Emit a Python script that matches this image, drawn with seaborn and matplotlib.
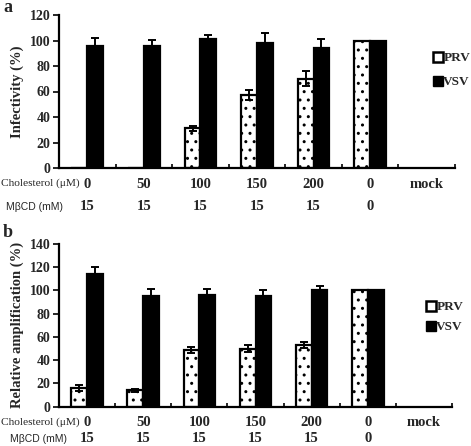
import matplotlib
matplotlib.use("Agg")
import matplotlib.pyplot as plt
import matplotlib.transforms as mtransforms
import numpy as np
import pandas as pd
import seaborn as sns
from matplotlib.lines import Line2D

# ---- data ----
categories = ["0", "50", "100", "150", "200", "0 ", "mock"]
cholesterol_labels = ["0", "50", "100", "150", "200", "0", "mock"]
mbcd_labels = ["15", "15", "15", "15", "15", "0"]

a_prv = [0, 0, 31, 57, 70, 100]
a_prv_err = [0, 0, 2, 4, 6, 0]
a_vsv = [96, 96, 101, 98, 94, 100]
a_vsv_err = [6, 4.5, 3.5, 8, 7, 0]

b_prv = [16, 14, 48.5, 50, 53, 100]
b_prv_err = [2.5, 1.5, 2.5, 3, 2.5, 0]
b_vsv = [114, 95, 96, 95, 100.5, 100]
b_vsv_err = [6, 6, 5, 5, 3.5, 0]

W, H = 471, 446
SERIF = ["Liberation Serif", "DejaVu Serif"]
SANS = ["Liberation Sans", "DejaVu Sans"]


def fx(px):
    return px / W


def fy(py):
    return 1 - py / H


def make_frame(prv, vsv):
    n = len(prv)
    return pd.DataFrame({
        "cat": categories[:n] * 2,
        "virus": ["PRV"] * n + ["VSV"] * n,
        "value": prv + vsv,
    })


def draw_panel(fig, rect, prv, prv_err, vsv, vsv_err, ymax, ylabel):
    ax = fig.add_axes(rect)
    df = make_frame(prv, vsv)
    sns.barplot(
        data=df, x="cat", y="value", hue="virus",
        order=categories, hue_order=["PRV", "VSV"],
        palette={"PRV": "white", "VSV": "black"},
        width=0.56, errorbar=None, legend=False, ax=ax,
        edgecolor="black", linewidth=1.6,
    )
    for bar in ax.containers[0]:
        bar.set_hatch("..")
    for cont, errs in zip(ax.containers, [prv_err, vsv_err]):
        xs, ys, es = [], [], []
        for bar, e in zip(cont, errs):
            if e > 0:
                xs.append(bar.get_x() + bar.get_width() / 2)
                ys.append(bar.get_height())
                es.append(e)
        ax.errorbar(xs, ys, yerr=es, fmt="none", ecolor="black",
                    elinewidth=1.4, capsize=3, capthick=1.4, zorder=3)

    ax.set_xlim(-0.5, len(categories) - 0.5)
    ax.set_ylim(0, ymax)
    ax.set_yticks(np.arange(0, ymax + 1, 20))
    ax.set_xticks(range(len(categories)))
    ax.set_xticklabels(cholesterol_labels, family=SERIF, weight="bold", fontsize=10.5)
    ax.set_xticks(np.arange(-0.5, len(categories), 1), minor=True)
    ax.tick_params(axis="x", which="major", length=0, pad=7)
    ax.tick_params(axis="x", which="minor", direction="in", length=3, width=1.4)
    ax.tick_params(axis="y", direction="out", length=4, width=1.4, pad=2)
    for t in ax.get_yticklabels():
        t.set_family(SERIF)
        t.set_weight("bold")
        t.set_fontsize(10)
    ax.set_xlabel("")
    ax.set_ylabel(ylabel, family=SERIF, weight="bold", fontsize=10.5, labelpad=4)
    sns.despine(ax=ax)
    for s in ["left", "bottom"]:
        ax.spines[s].set_linewidth(1.6)
        ax.spines[s].set_color("black")
    return ax


sns.set_style("ticks")
plt.rcParams["font.family"] = SERIF

fig = plt.figure(figsize=(W / 100, H / 100), dpi=100)

ax_a = draw_panel(
    fig, [fx(59), fy(168), fx(455 - 59), (168 - 15) / H],
    a_prv, a_prv_err, a_vsv, a_vsv_err, 120, "Infectivity (%)")
ax_b = draw_panel(
    fig, [fx(59), fy(406.7), fx(452 - 59), (406.7 - 244) / H],
    b_prv, b_prv_err, b_vsv, b_vsv_err, 140, "Relative amplification (%)")

# rows of MβCD values
for ax, y_row in [(ax_a, 207), (ax_b, 439)]:
    blend = mtransforms.blended_transform_factory(ax.transData, fig.transFigure)
    for i, lab in enumerate(mbcd_labels):
        ax.text(i, fy(y_row), lab, transform=blend, ha="center", va="center",
                family=SERIF, weight="bold", fontsize=10.5)

# row captions
for y_chol, y_mbcd, x_mbcd in [(183, 207, 6), (422.5, 439, 10)]:
    fig.text(fx(1), fy(y_chol), "Cholesterol (μM)", ha="left", va="center",
             family=SERIF, fontsize=8.2)
    fig.text(fx(x_mbcd), fy(y_mbcd), "MβCD (mM)", ha="left", va="center",
             family=SANS, fontsize=7.5)

# panel letters
fig.text(fx(3), fy(8), "a", ha="left", va="center", family=SERIF,
         weight="bold", fontsize=13)
fig.text(fx(3), fy(233), "b", ha="left", va="center", family=SERIF,
         weight="bold", fontsize=13)

# legends
handles = [
    Line2D([], [], marker="s", linestyle="none", markersize=7,
           markerfacecolor="white", markeredgecolor="black", markeredgewidth=1.8),
    Line2D([], [], marker="s", linestyle="none", markersize=7,
           markerfacecolor="black", markeredgecolor="black"),
]
for ax, (lx, ly), spacing in [(ax_a, (434, 52), 0.9), (ax_b, (427, 301), 0.6)]:
    ax.legend(handles, ["PRV", "VSV"], loc="upper left",
              bbox_to_anchor=(fx(lx), fy(ly)), bbox_transform=fig.transFigure,
              frameon=False, handlelength=0.6, handletextpad=0.1,
              labelspacing=spacing, borderpad=0, borderaxespad=0,
              prop={"family": SERIF, "weight": "bold", "size": 9.5})

fig.savefig("out.png", dpi=100)
